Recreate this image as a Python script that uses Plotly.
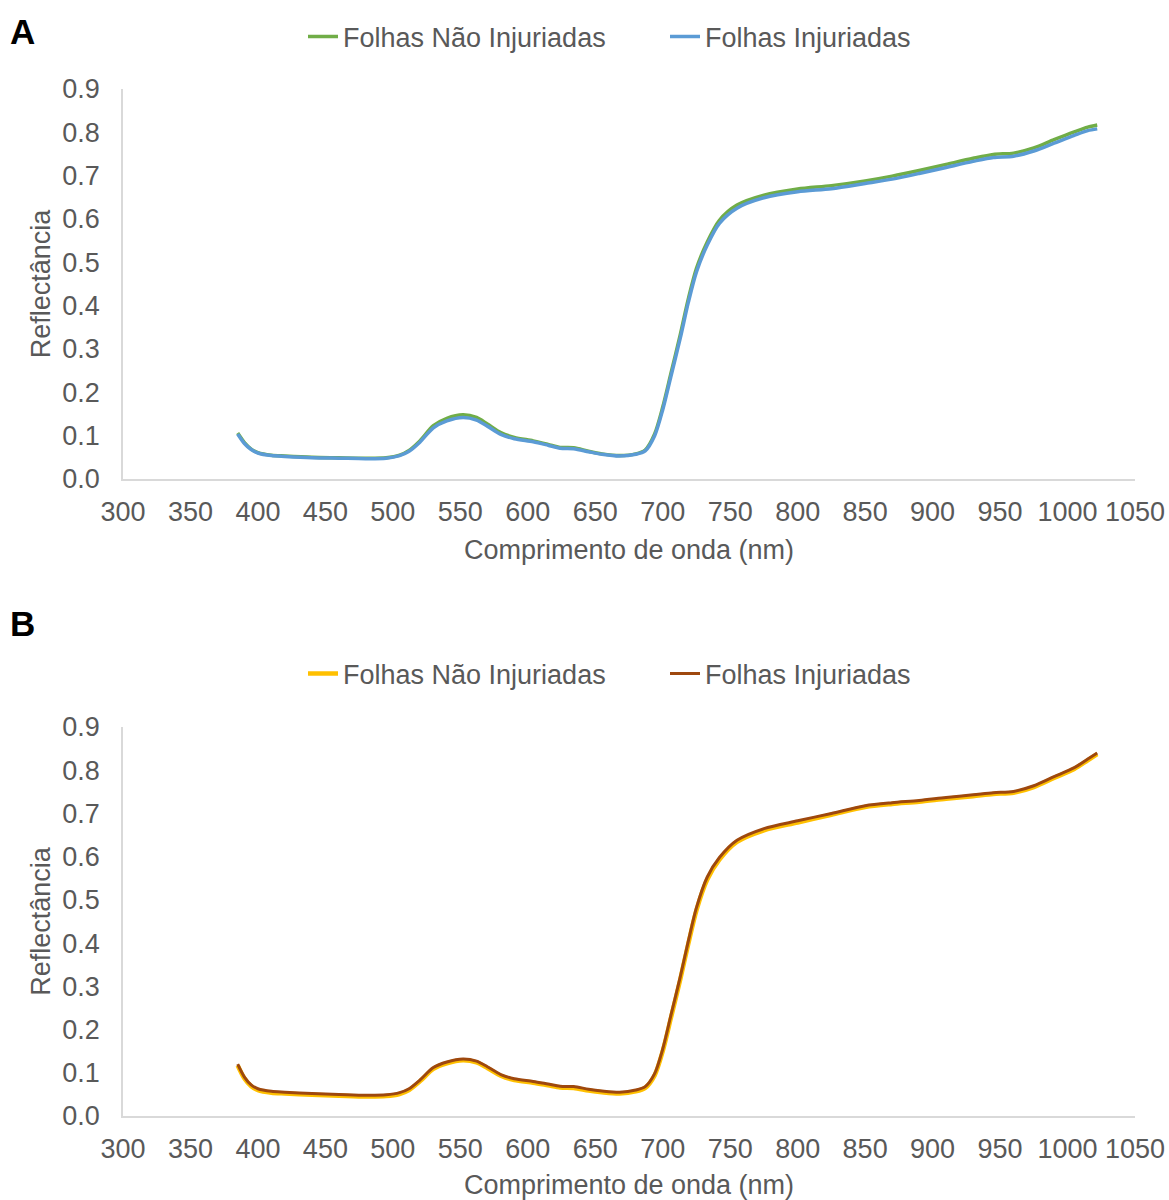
import plotly.graph_objects as go

# ---------------- data ----------------
wavelength = [385, 390, 395, 400, 410, 420, 440, 460, 480, 495, 505, 512, 520, 530, 540,
              552, 562, 570, 580, 590, 604, 615, 624, 634, 645, 655, 668, 680, 687, 694,
              700, 706, 713, 719, 725, 733, 742, 755, 775, 800, 825, 850, 870, 890, 910,
              930, 945, 960, 975, 990, 1005, 1015, 1022]

# Panel A
a_nao_injuriadas = [0.106, 0.084, 0.069, 0.061, 0.055, 0.053, 0.050, 0.049, 0.048, 0.049,
                    0.055, 0.066, 0.088, 0.123, 0.140, 0.148, 0.142, 0.127, 0.107, 0.096,
                    0.088, 0.080, 0.073, 0.072, 0.064, 0.058, 0.054, 0.058, 0.067, 0.104,
                    0.166, 0.243, 0.333, 0.416, 0.486, 0.547, 0.597, 0.632, 0.655, 0.669,
                    0.677, 0.688, 0.699, 0.712, 0.726, 0.740, 0.749, 0.752, 0.764, 0.783,
                    0.801, 0.812, 0.817]
a_injuriadas = [0.104, 0.082, 0.068, 0.060, 0.054, 0.052, 0.049, 0.048, 0.047, 0.048,
                0.054, 0.064, 0.085, 0.118, 0.134, 0.142, 0.136, 0.122, 0.103, 0.093,
                0.086, 0.078, 0.071, 0.070, 0.063, 0.057, 0.053, 0.057, 0.065, 0.100,
                0.160, 0.236, 0.325, 0.408, 0.478, 0.540, 0.590, 0.625, 0.649, 0.663,
                0.670, 0.682, 0.692, 0.705, 0.719, 0.733, 0.742, 0.745, 0.757, 0.775,
                0.793, 0.804, 0.808]

# Panel B
b_nao_injuriadas = [0.117, 0.087, 0.069, 0.060, 0.054, 0.052, 0.049, 0.047, 0.045, 0.046,
                    0.051, 0.060, 0.080, 0.109, 0.122, 0.129, 0.124, 0.111, 0.093, 0.083,
                    0.077, 0.071, 0.066, 0.065, 0.059, 0.055, 0.052, 0.057, 0.065, 0.094,
                    0.150, 0.226, 0.316, 0.399, 0.476, 0.547, 0.593, 0.634, 0.661, 0.679,
                    0.697, 0.715, 0.722, 0.727, 0.734, 0.740, 0.745, 0.748, 0.761, 0.782,
                    0.803, 0.823, 0.837]
b_injuriadas = [0.120, 0.090, 0.072, 0.063, 0.057, 0.055, 0.052, 0.050, 0.048, 0.049,
                0.054, 0.063, 0.083, 0.112, 0.125, 0.132, 0.127, 0.114, 0.096, 0.086,
                0.080, 0.074, 0.069, 0.068, 0.062, 0.058, 0.055, 0.060, 0.068, 0.098,
                0.155, 0.232, 0.322, 0.405, 0.482, 0.553, 0.598, 0.638, 0.665, 0.683,
                0.700, 0.718, 0.725, 0.730, 0.737, 0.743, 0.748, 0.751, 0.764, 0.785,
                0.806, 0.826, 0.840]

series_names = ["Folhas Não Injuriadas", "Folhas Injuriadas"]
x_ticks = list(range(300, 1051, 50))
y_ticks = [0.0, 0.1, 0.2, 0.3, 0.4, 0.5, 0.6, 0.7, 0.8, 0.9]

# ---------------- figure ----------------
W, H = 1169, 1200
FONT = "Liberation Sans, Arial, sans-serif"
GREY = "#595959"
FS = 27

fig = go.Figure()
fig.add_trace(go.Scatter(x=wavelength, y=a_nao_injuriadas, name=series_names[0], mode="lines",
                         line=dict(color="#70AD47", width=3.5, shape="spline", smoothing=0.8),
                         xaxis="x", yaxis="y", legend="legend"))
fig.add_trace(go.Scatter(x=wavelength, y=a_injuriadas, name=series_names[1], mode="lines",
                         line=dict(color="#5B9BD5", width=3.5, shape="spline", smoothing=0.8),
                         xaxis="x", yaxis="y", legend="legend"))
fig.add_trace(go.Scatter(x=wavelength, y=b_nao_injuriadas, name=series_names[0], mode="lines",
                         line=dict(color="#FFC000", width=4.5, shape="spline", smoothing=0.8),
                         xaxis="x2", yaxis="y2", legend="legend2"))
fig.add_trace(go.Scatter(x=wavelength, y=b_injuriadas, name=series_names[1], mode="lines",
                         line=dict(color="#9E480E", width=3, shape="spline", smoothing=0.8),
                         xaxis="x2", yaxis="y2", legend="legend2"))

xdom = [123 / W, 1135 / W]


def xaxis_cfg(anchor):
    return dict(domain=xdom, range=[300, 1050], tickvals=x_ticks, showgrid=False,
                zeroline=False, showline=True, linecolor="#d9d9d9", linewidth=1.5,
                ticks="", ticklabelstandoff=8, automargin=False,
                tickfont=dict(family=FONT, size=FS, color=GREY), anchor=anchor,
                title=dict(text="Comprimento de onda (nm)", standoff=14,
                           font=dict(family=FONT, size=FS, color=GREY)))


def yaxis_cfg(top_px, bottom_px, anchor):
    return dict(domain=[1 - bottom_px / H, 1 - top_px / H], range=[0, 0.9],
                tickvals=y_ticks, tickformat=".1f", showgrid=False, zeroline=False,
                showline=True, linecolor="#d9d9d9", linewidth=1.5, ticks="",
                ticklabelstandoff=16, automargin=False,
                tickfont=dict(family=FONT, size=FS, color=GREY), anchor=anchor,
                title=dict(text="Reflectância", standoff=4,
                           font=dict(family=FONT, size=FS, color=GREY)))


legend_common = dict(orientation="h", xanchor="left", yanchor="middle",
                     font=dict(family=FONT, size=FS, color=GREY),
                     bgcolor="rgba(0,0,0,0)", entrywidth=317, tracegroupgap=0,
                     itemwidth=30)

fig.update_layout(
    width=W, height=H,
    margin=dict(l=0, r=0, t=0, b=0, autoexpand=False),
    paper_bgcolor="white", plot_bgcolor="white",
    xaxis=xaxis_cfg("y"),
    yaxis=yaxis_cfg(89, 479, "x"),
    xaxis2=xaxis_cfg("y2"),
    yaxis2=yaxis_cfg(727, 1116, "x2"),
    legend=dict(x=303 / W, y=1 - 37 / H, **legend_common),
    legend2=dict(x=303 / W, y=1 - 674 / H, **legend_common),
    annotations=[
        dict(text="<b>A</b>", x=8 / W, y=1 - 31 / H, xref="paper", yref="paper",
             xanchor="left", yanchor="middle", showarrow=False,
             font=dict(family=FONT, size=35, color="black")),
        dict(text="<b>B</b>", x=8 / W, y=1 - 623 / H, xref="paper", yref="paper",
             xanchor="left", yanchor="middle", showarrow=False,
             font=dict(family=FONT, size=35, color="black")),
    ],
    showlegend=True,
)

fig.write_html("out.html")
